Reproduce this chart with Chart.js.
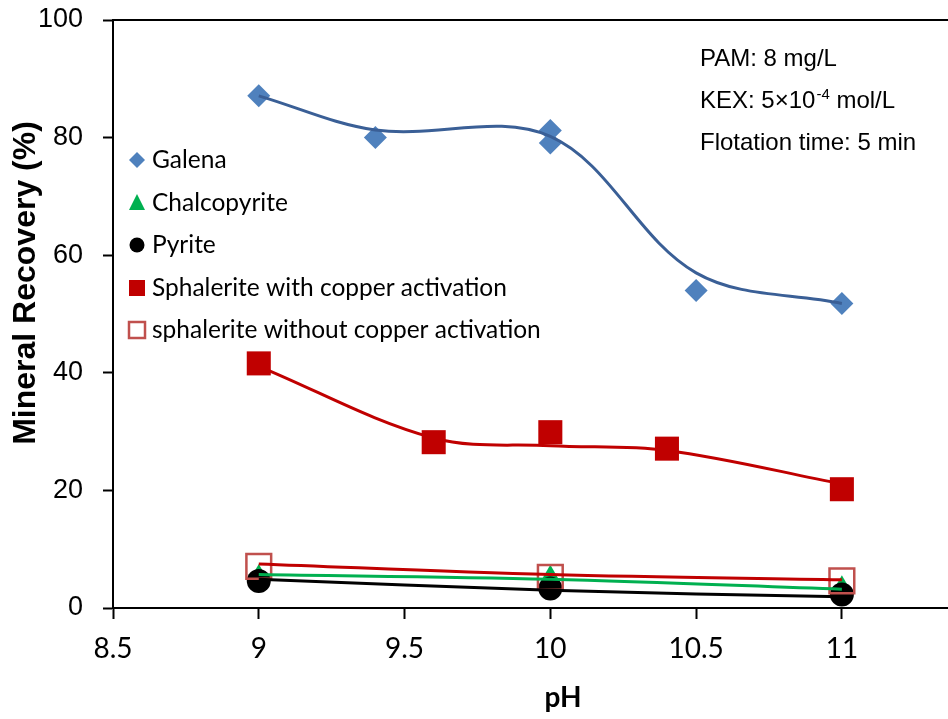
<!DOCTYPE html>
<html>
<head>
<meta charset="utf-8">
<script src="https://cdn.jsdelivr.net/npm/chart.js@4"></script>
<style>body{margin:0;background:#fff}</style>
</head>
<body>
<canvas id="myChart" width="948" height="719"></canvas>
<script>
// data
const pH = [9, 10, 11];
const galenaPH = [9, 9.4, 10, 10, 10.5, 11];
const galena = [87.1, 80.0, 81.2, 79.1, 54.0, 51.8];
const galenaFitPH = [9, 9.4, 10, 10.5, 11];
const galenaFit = [87.1, 81.3, 80.2, 57.0, 51.8];
const chalcopyrite = [5.6, 5.5, 3.7];
const chalcopyriteFit = [5.7, 4.9, 3.2];
const pyrite = [4.6, 3.3, 2.3];
const pyriteFit = [4.9, 3.0, 1.9];
const sphCuPH = [9, 9.6, 10, 10.4, 11];
const sphCu = [41.6, 28.2, 29.9, 27.1, 20.2];
const sphCuFit = [41.1, 28.9, 27.6, 26.8, 21.1];
const sphNoCu = [7.1, 5.2, 4.6];
const sphNoCuFit = [7.5, 5.7, 4.8];
const xTicks = [8.5, 9, 9.5, 10, 10.5, 11];
const yTicks = [0, 20, 40, 60, 80, 100];
const legendLabels = ['Galena', 'Chalcopyrite', 'Pyrite',
  'Sphalerite with copper activation', 'sphalerite without copper activation'];

const pts = (xs, ys) => xs.map((x, i) => ({x: x, y: ys[i]}));

// fit lines (drawn on top)
const line = (d, color, ord) => ({
  data: d, showLine: true, borderColor: color, borderWidth: 3,
  pointRadius: 0, tension: 0.35, fill: false, order: ord
});
// marker series
const marks = (d, style, r, fill, ord, extra) => Object.assign({
  data: d, showLine: false, pointStyle: style, pointRadius: r,
  backgroundColor: fill, borderColor: fill, pointBorderWidth: 0, order: ord
}, extra || {});

const data = {
  datasets: [
    line(pts(galenaFitPH, galenaFit), '#3A5F96', 0),
    line(pts(sphCuPH, sphCuFit), '#C00000', 1),
    line(pts(pH, sphNoCuFit), '#C00000', 2),
    line(pts(pH, chalcopyriteFit), '#00B050', 3),
    line(pts(pH, pyriteFit), '#000000', 4),
    marks(pts(pH, sphNoCu), 'rect', 17.5, 'rgba(0,0,0,0)', 6,
      {borderColor: '#C0504D', pointBorderWidth: 2.5}),
    marks(pts(sphCuPH, sphCu), 'rect', 17, '#C00000', 7),
    marks(pts(pH, pyrite), 'circle', 12, '#000000', 8),
    marks(pts(pH, chalcopyrite), 'triangle', 11, '#00B050', 9),
    marks(pts(galenaPH, galena), 'rectRot', 11.5, '#4F81BD', 10)
  ]
};

// legend, notes, axis titles, top border
const extras = {
  id: 'extras',
  afterDraw(chart) {
    const {ctx, chartArea: {left, right, top}} = chart;
    ctx.save();
    ctx.strokeStyle = '#000';
    ctx.lineWidth = 2;
    ctx.beginPath();
    ctx.moveTo(left, top);
    ctx.lineTo(right, top);
    ctx.stroke();

    // legend
    const ys = [160, 203, 245, 288, 330];
    const mx = 137;
    ctx.fillStyle = '#4F81BD';
    ctx.beginPath();
    ctx.moveTo(mx, ys[0] - 8); ctx.lineTo(mx + 8, ys[0]);
    ctx.lineTo(mx, ys[0] + 8); ctx.lineTo(mx - 8, ys[0]);
    ctx.closePath(); ctx.fill();
    ctx.fillStyle = '#00B050';
    ctx.beginPath();
    ctx.moveTo(mx, ys[1] - 9); ctx.lineTo(mx + 8, ys[1] + 7);
    ctx.lineTo(mx - 8, ys[1] + 7);
    ctx.closePath(); ctx.fill();
    ctx.fillStyle = '#000';
    ctx.beginPath();
    ctx.arc(mx, ys[2], 7.5, 0, Math.PI * 2);
    ctx.fill();
    ctx.fillStyle = '#C00000';
    ctx.fillRect(mx - 8, ys[3] - 8, 16, 16);
    ctx.strokeStyle = '#C0504D';
    ctx.lineWidth = 2.5;
    ctx.strokeRect(mx - 8, ys[4] - 8, 16, 16);

    ctx.fillStyle = '#000';
    ctx.font = '24.5px Lato';
    ctx.textBaseline = 'middle';
    ctx.textAlign = 'left';
    legendLabels.forEach((t, i) => ctx.fillText(t, 152, ys[i]));

    // conditions
    ctx.font = '24px "Liberation Sans"';
    ctx.textBaseline = 'alphabetic';
    ctx.fillText('PAM: 8 mg/L', 700, 66);
    let kx = 700;
    const part1 = 'KEX: 5\u00d710';
    ctx.fillText(part1, kx, 108);
    kx += ctx.measureText(part1).width;
    ctx.font = '15px "Liberation Sans"';
    ctx.fillText('-4', kx + 1, 99);
    kx += ctx.measureText('-4').width + 1;
    ctx.font = '24px "Liberation Sans"';
    ctx.fillText(' mol/L', kx, 108);
    ctx.fillText('Flotation time: 5 min', 700, 150);

    // axis titles
    ctx.font = 'bold 28px Lato';
    ctx.textAlign = 'center';
    ctx.textBaseline = 'middle';
    ctx.fillText('pH', 563, 698);
    ctx.translate(26, 283);
    ctx.rotate(-Math.PI / 2);
    ctx.font = 'bold 32px "Liberation Sans"';
    ctx.fillText('Mineral Recovery (%)', 0, 0);
    ctx.restore();
  }
};

const config = {
  type: 'scatter',
  data,
  options: {
    responsive: false,
    animation: false,
    events: [],
    layout: {autoPadding: false, padding: {top: 20, left: 0, right: 0, bottom: 0}},
    plugins: {legend: {display: false}, tooltip: {enabled: false}},
    scales: {
      x: {
        type: 'linear', min: 8.5, max: 11.364,
        afterBuildTicks: s => { s.ticks = xTicks.map(v => ({value: v})); },
        afterFit: s => { s.height = 111; s.paddingLeft = 0; s.paddingRight = 0; },
        ticks: {font: {family: 'Lato', size: 28}, color: '#000', padding: 13, maxRotation: 0,
          callback: v => String(v)},
        grid: {drawOnChartArea: false, tickLength: 11, tickWidth: 2, color: '#000'},
        border: {color: '#000', width: 2}
      },
      y: {
        min: 0, max: 100,
        afterBuildTicks: s => { s.ticks = yTicks.map(v => ({value: v})); },
        afterFit: s => { s.width = 113; s.paddingTop = 0; s.paddingBottom = 0; },
        ticks: {font: {family: 'Liberation Sans', size: 27}, color: '#000', padding: 20},
        grid: {drawOnChartArea: false, tickLength: 10, tickWidth: 2, color: '#000'},
        border: {color: '#000', width: 2}
      }
    }
  },
  plugins: [extras]
};

const myChart = new Chart(document.getElementById('myChart'), config);
</script>
</body>
</html>
